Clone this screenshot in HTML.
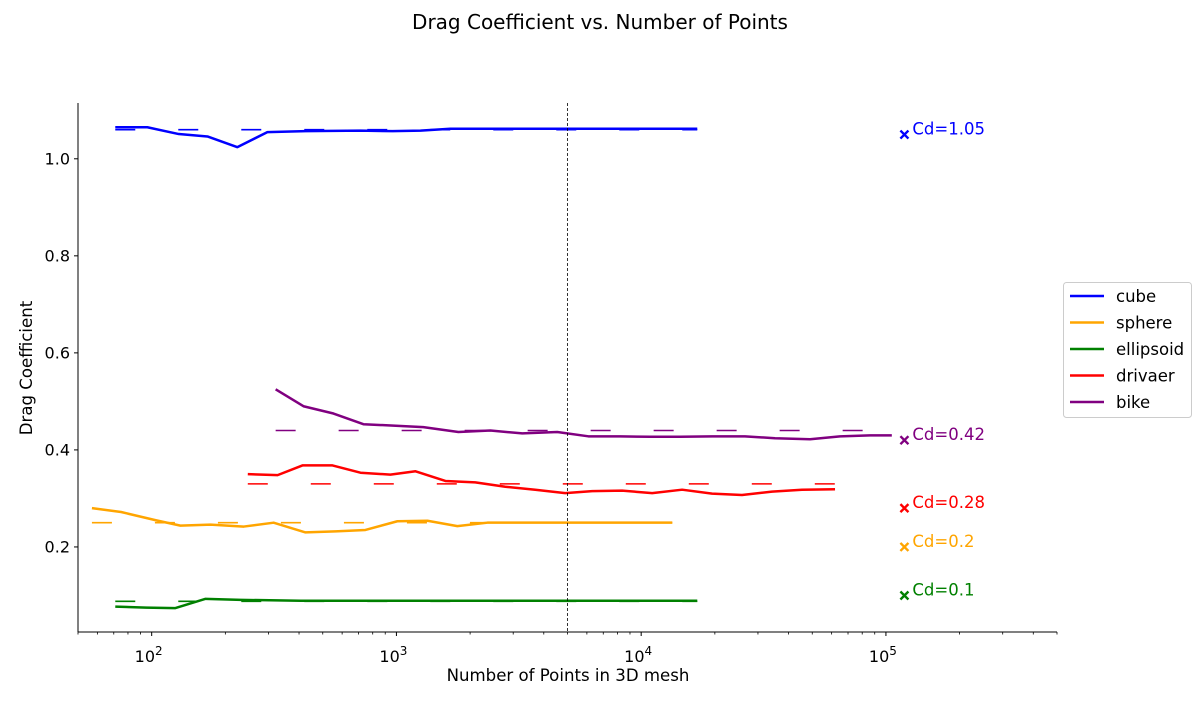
<!DOCTYPE html>
<html><head><meta charset="utf-8"><style>
body{margin:0;background:#fff;}
svg text{font-family:"DejaVu Sans","Liberation Sans",sans-serif;}
</style></head><body>
<svg id="chart" width="1200" height="700" xmlns="http://www.w3.org/2000/svg">
<text x="600" y="29" text-anchor="middle" font-size="20">Drag Coefficient vs. Number of Points</text>
<g id="grid"></g>
<g id="series"></g>
<g id="axes"></g>
<text x="568" y="681" text-anchor="middle" font-size="16.6">Number of Points in 3D mesh</text>
<text transform="translate(32,368) rotate(-90)" text-anchor="middle" font-size="16.6">Drag Coefficient</text>
<g id="legend"></g>
</svg>
<script>
const seriesNames = ["cube","sphere","ellipsoid","drivaer","bike"];
const seriesColors = ["#0000ff","#ffa500","#008000","#ff0000","#800080"];
const cubeX = [71,96,129,169,224,297,425,713,964,1254,1660,2202,3875,6810,9910,16950];
const cubeY = [1.065,1.065,1.051,1.046,1.024,1.055,1.057,1.058,1.057,1.058,1.062,1.062,1.062,1.062,1.062,1.062];
const sphereX = [57,75,104,131,174,238,315,425,563,747,1009,1339,1774,2352,4670,13400];
const sphereY = [0.28,0.272,0.255,0.244,0.246,0.242,0.25,0.23,0.232,0.235,0.253,0.254,0.243,0.25,0.25,0.25];
const ellipsoidX = [71,95,125,166,231,406,1038,2653,6810,16950];
const ellipsoidY = [0.077,0.075,0.074,0.093,0.091,0.089,0.089,0.089,0.089,0.089];
const drivaerX = [247,327,413,548,713,945,1197,1585,2100,2785,3690,4895,6310,8360,11090,14700,19480,25820,34250,45400,61950];
const drivaerY = [0.35,0.348,0.368,0.368,0.353,0.349,0.356,0.336,0.333,0.324,0.318,0.311,0.315,0.316,0.311,0.318,0.31,0.307,0.314,0.318,0.319];
const bikeX = [321,417,553,733,972,1288,1791,2421,3268,4540,6083,8200,10880,14430,19480,26550,35240,48980,64890,86060,105700];
const bikeY = [0.525,0.49,0.475,0.453,0.45,0.447,0.437,0.44,0.434,0.437,0.428,0.428,0.427,0.427,0.428,0.428,0.424,0.422,0.428,0.43,0.43];
const refCd = [1.06,0.25,0.088,0.33,0.44];
const knownCd = [1.05,0.2,0.1,0.28,0.42];
const knownLabels = ["Cd=1.05","Cd=0.2","Cd=0.1","Cd=0.28","Cd=0.42"];
const knownX = 119000;
const vlineX = 5000;
const yTicks = [0.2,0.4,0.6,0.8,1.0];
const yTickLabels = ["0.2","0.4","0.6","0.8","1.0"];
const xTicks = [100,1000,10000,100000];
const xTickExp = ["2","3","4","5"];

const L=78,R=1057,T=103,B=632;
const xmin=Math.log10(50), xmax=Math.log10(500000), ymin=0.0247, ymax=1.115;
const sx=v=>L+(Math.log10(v)-xmin)/(xmax-xmin)*(R-L);
const sy=v=>B-(v-ymin)/(ymax-ymin)*(B-T);
const NS="http://www.w3.org/2000/svg";
function mk(tag,attrs,parent){const e=document.createElementNS(NS,tag);for(const k in attrs)e.setAttribute(k,attrs[k]);parent.appendChild(e);return e;}
const gS=document.getElementById('series'), gA=document.getElementById('axes'), gL=document.getElementById('legend');
const xsAll=[cubeX,sphereX,ellipsoidX,drivaerX,bikeX], ysAll=[cubeY,sphereY,ellipsoidY,drivaerY,bikeY];
for(let i=0;i<5;i++){
  const xs=xsAll[i], ys=ysAll[i];
  const d=mk('line',{x1:sx(xs[0]),x2:sx(xs[xs.length-1]),y1:sy(refCd[i]),y2:sy(refCd[i]),stroke:seriesColors[i],'stroke-width':1.6,'stroke-dasharray':'20 43'},gS);
  
  
  const p=mk('polyline',{points:xs.map((x,j)=>sx(x)+','+sy(ys[j])).join(' '),fill:'none',stroke:seriesColors[i],'stroke-width':2.5,'stroke-linejoin':'round'},gS);
  
  
}
const vl=mk('line',{x1:sx(vlineX),x2:sx(vlineX),y1:T,y2:B,stroke:'#000','stroke-width':0.8,'stroke-dasharray':'3 2'},gS);


knownCd.forEach((v,i)=>{
  const cx=sx(knownX), cy=sy(v);
  const c=seriesColors[i];
  const m=mk('path',{d:`M${cx-4},${cy-4}L${cx+4},${cy+4}M${cx-4},${cy+4}L${cx+4},${cy-4}`,stroke:c,'stroke-width':2.4},gS);
  
  
  const t=mk('text',{x:cx+8,y:cy,'font-size':16.5,fill:c},gS);
  t.textContent=knownLabels[i];
  
  
});
mk('line',{x1:L,x2:L,y1:T,y2:B,stroke:'#000','stroke-width':1},gA);
mk('line',{x1:L,x2:R,y1:B,y2:B,stroke:'#000','stroke-width':1},gA);
yTicks.forEach((v,i)=>{
  mk('line',{x1:L-4,x2:L,y1:sy(v),y2:sy(v),stroke:'#000'},gA);
  const t=mk('text',{x:L-8,y:sy(v)+5.5,'text-anchor':'end','font-size':16},gA);
  t.textContent=yTickLabels[i];
  
  
});
xTicks.forEach((v,i)=>{
  mk('line',{x1:sx(v),x2:sx(v),y1:B,y2:B+4,stroke:'#000'},gA);
  const t=mk('text',{x:sx(v)-3,y:B+30,'text-anchor':'middle','font-size':16},gA);
  t.textContent='10';
  const s=mk('tspan',{dy:-7,'font-size':12},t); s.textContent=xTickExp[i];
  
  
});
for(let e=1;e<=5;e++)for(let k=2;k<=9;k++){const v=k*Math.pow(10,e);const x=sx(v);if(x>=L&&x<=R)mk('line',{x1:x,x2:x,y1:B,y2:B+2.5,stroke:'#000','stroke-width':0.8},gA);}
mk('rect',{x:1063.5,y:282.5,width:128,height:135,rx:3,fill:'#fff',stroke:'#ccc'},gL);
seriesNames.forEach((n,i)=>{
  const y=296+i*26.5;
  const g=mk('g',{},gL);
  
  
  mk('line',{x1:1070,x2:1104,y1:y,y2:y,stroke:seriesColors[i],'stroke-width':2.4},g);
  const t=mk('text',{x:1116,y:y+6,'font-size':16.5},g); t.textContent=n;
});
</script>
</body></html>
